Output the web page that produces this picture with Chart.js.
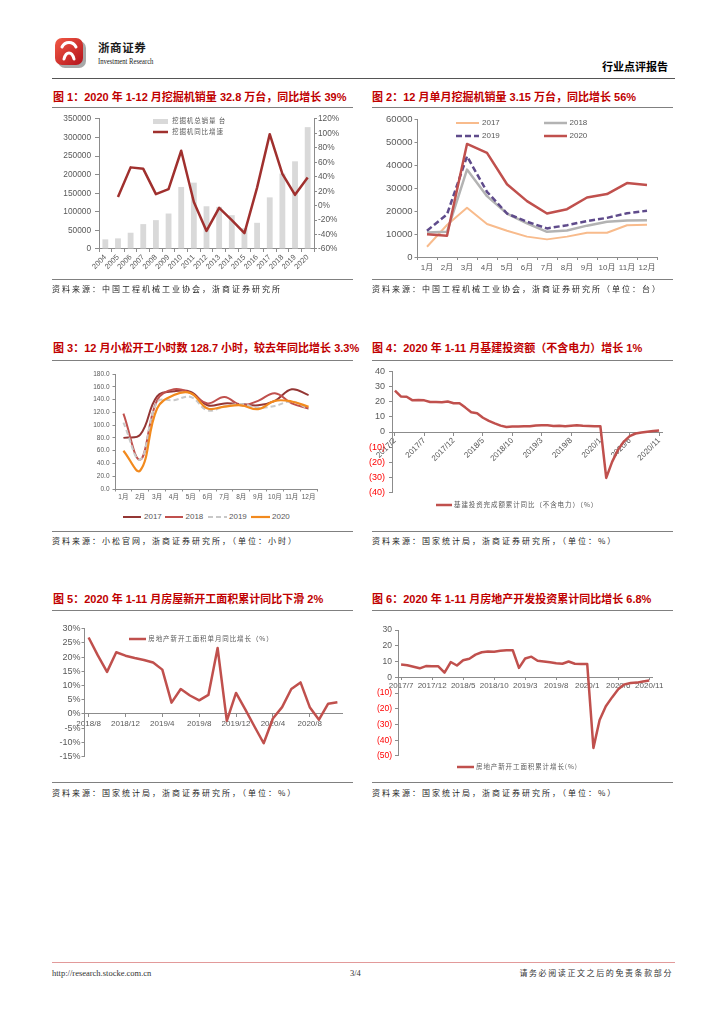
<!DOCTYPE html>
<html>
<head>
<meta charset="utf-8">
<script src="https://cdn.jsdelivr.net/npm/chart.js@4.4.1/dist/chart.umd.min.js"></script>
<style>
html, body { margin: 0; padding: 0; background: #fff; }
#page { position: relative; width: 724px; height: 1024px; overflow: hidden; font-family: "Noto Sans CJK SC", "Noto Sans", sans-serif; }
.t { position: absolute; white-space: nowrap; line-height: 1.2; transform: translateY(-50%); }
.title { font-family: "Liberation Sans", "Noto Sans CJK SC", sans-serif; font-weight: bold; font-size: 11px; color: #C00000; }
.rule { position: absolute; height: 0; border-top: 1.4px solid #808080; }
.src { font-size: 8px; color: #262626; letter-spacing: 2px; }
.key { font-size: 6.5px; color: #595959; letter-spacing: 0.9px; }
.num { font-family: "Liberation Sans", Arial, sans-serif; font-size: 8px; color: #595959; letter-spacing: 0; }
canvas { position: absolute; }
</style>
</head>
<body>
<div id="page">
  <!-- header -->
  <svg style="position:absolute;left:53px;top:36px" width="36" height="34" viewBox="0 0 36 34">
    <defs>
      <linearGradient id="lg" x1="0" y1="0" x2="1" y2="1">
        <stop offset="0" stop-color="#f25a45"/>
        <stop offset="1" stop-color="#b3121c"/>
      </linearGradient>
    </defs>
    <rect x="5" y="5" width="28" height="27" rx="7" fill="#a8a8a8"/>
    <rect x="2" y="2" width="28" height="27" rx="7" fill="url(#lg)"/>
    <path d="M9 11 C12 5, 20 5, 23 11 M11 23 C13 15, 19 15, 21 23" stroke="#fff" stroke-width="3" fill="none" stroke-linecap="round"/>
  </svg>
  <div class="t" style="left:98px;top:48px;font-size:11.5px;font-weight:bold;color:#1a1a1a;letter-spacing:0.6px">浙商证券</div>
  <div class="t" style="left:98px;top:61px;font-family:'Liberation Serif',serif;font-size:8.5px;color:#1a1a1a;transform:translateY(-50%) scaleX(0.78);transform-origin:left center">Investment Research</div>
  <div class="t" style="right:56px;top:67px;font-size:11px;font-weight:bold;color:#000">行业点评报告</div>
  <div class="rule" style="left:52px;top:78px;width:623px;border-top:1.5px solid #555"></div>

  <!-- row 1 -->
  <div class="t title" style="left:53px;top:97.5px">图 1：2020 年 1-12 月挖掘机销量 32.8 万台，同比增长 39%</div>
  <div class="t title" style="left:372px;top:97.5px">图 2：12 月单月挖掘机销量 3.15 万台，同比增长 56%</div>
  <div class="rule" style="left:52px;top:107px;width:301px"></div>
  <div class="rule" style="left:372px;top:107px;width:301px"></div>
  <canvas id="c1" width="300" height="170" style="left:50px;top:110px"></canvas>
  <canvas id="c2" width="295" height="170" style="left:370px;top:112px"></canvas>
  <div class="rule" style="left:52px;top:279px;width:301px"></div>
  <div class="rule" style="left:372px;top:279px;width:301px"></div>
  <div class="t src" style="left:52px;top:288.5px">资料来源：中国工程机械工业协会，浙商证券研究所</div>
  <div class="t src" style="left:372px;top:288.5px">资料来源：中国工程机械工业协会，浙商证券研究所（单位：台）</div>

  <!-- row 2 -->
  <div class="t title" style="left:53px;top:348.5px">图 3：12 月小松开工小时数 128.7 小时，较去年同比增长 3.3%</div>
  <div class="t title" style="left:372px;top:348.5px">图 4：2020 年 1-11 月基建投资额（不含电力）增长 1%</div>
  <div class="rule" style="left:52px;top:360px;width:301px"></div>
  <div class="rule" style="left:372px;top:360px;width:301px"></div>
  <canvas id="c3" width="250" height="140" style="left:75px;top:367px"></canvas>
  <canvas id="c4" width="315" height="140" style="left:355px;top:362px"></canvas>
  <div class="rule" style="left:52px;top:531px;width:301px"></div>
  <div class="rule" style="left:372px;top:531px;width:301px"></div>
  <div class="t src" style="left:52px;top:540.5px">资料来源：小松官网，浙商证券研究所，（单位：小时）</div>
  <div class="t src" style="left:372px;top:540.5px">资料来源：国家统计局，浙商证券研究所，（单位：%）</div>

  <!-- row 3 -->
  <div class="t title" style="left:53px;top:599.5px">图 5：2020 年 1-11 月房屋新开工面积累计同比下滑 2%</div>
  <div class="t title" style="left:372px;top:599.5px">图 6：2020 年 1-11 月房地产开发投资累计同比增长 6.8%</div>
  <div class="rule" style="left:52px;top:610px;width:301px"></div>
  <div class="rule" style="left:372px;top:610px;width:301px"></div>
  <canvas id="c5" width="310" height="141" style="left:40px;top:622px"></canvas>
  <canvas id="c6" width="305" height="142" style="left:360px;top:622px"></canvas>
  <div class="rule" style="left:52px;top:782px;width:301px"></div>
  <div class="rule" style="left:372px;top:782px;width:301px"></div>
  <div class="t src" style="left:52px;top:793px">资料来源：国家统计局，浙商证券研究所，（单位：%）</div>
  <div class="t src" style="left:372px;top:793px">资料来源：国家统计局，浙商证券研究所，（单位：%）</div>

  <!-- footer -->
  <div class="rule" style="left:52px;top:962px;width:623px;border-top:1.5px solid #E29A9A"></div>
  <div class="t" style="left:52px;top:972.5px;font-family:'Liberation Serif',serif;font-size:8.5px;color:#333">http://research.stocke.com.cn</div>
  <div class="t" style="left:350px;top:972.5px;font-family:'Liberation Serif',serif;font-size:8.5px;color:#333">3/4</div>
  <div class="t" style="right:51px;top:972.5px;font-size:8px;color:#333;letter-spacing:1.6px">请务必阅读正文之后的免责条款部分</div>
</div>

<script>
// ---- chart 1: annual excavator sales and yoy growth ----
const C1_YEARS = ['2004', '2005', '2006', '2007', '2008', '2009', '2010', '2011', '2012',
  '2013', '2014', '2015', '2016', '2017', '2018', '2019', '2020'];
const C1_SALES = [26000, 28600, 43800, 67000, 77700, 95500, 167000, 178600, 115000,
  113400, 91000, 56000, 70500, 139000, 203000, 236000, 328000];
const C1_GROWTH = [null, 12, 53, 51, 16, 23, 76, 5, -35, -3, -20, -38, 25, 99, 44, 15, 39];
const C1_NAMES = ['挖掘机总销量 台', '挖掘机同比增速'];

// ---- chart 2: monthly excavator sales by year ----
const C2_MONTHS = ['1月', '2月', '3月', '4月', '5月', '6月', '7月', '8月', '9月', '10月', '11月', '12月'];
const C2_2017 = [4500, 14000, 21500, 14400, 11500, 8900, 7700, 8900, 10600, 10600, 13900, 14100];
const C2_2018 = [10700, 11000, 38200, 26600, 19000, 14700, 11000, 11600, 13700, 15400, 16000, 16100];
const C2_2019 = [11500, 18600, 44000, 28500, 19000, 15400, 12500, 13900, 15700, 17100, 19100, 20200];
const C2_2020 = [9900, 9300, 49400, 45500, 31800, 24400, 19000, 20900, 26000, 27500, 32300, 31500];

// ---- chart 3: Komatsu working hours ----
const C3_MONTHS = ['1月', '2月', '3月', '4月', '5月', '6月', '7月', '8月', '9月', '10月', '11月', '12月'];
const C3_2017 = [80, 85, 145, 153, 152, 131, 134, 133, 131, 138, 156, 147];
const C3_2018 = [118, 46, 139, 156, 150, 134, 144, 131, 138, 150, 134, 126];
const C3_2019 = [104, 46, 136, 139, 144, 123, 129, 133, 127, 130, 137, 125];
const C3_2020 = [60, 29, 126, 147, 150, 126, 129, 131, 125, 138, 137, 128.7];

// ---- chart 4: infrastructure investment ytd yoy (ex power) ----
const C4_MONTHS = ['2017/2', '2017/3', '2017/4', '2017/5', '2017/6', '2017/7', '2017/8', '2017/9', '2017/10', '2017/11', '2017/12',
  '2018/1', '2018/2', '2018/3', '2018/4', '2018/5', '2018/6', '2018/7', '2018/8', '2018/9', '2018/10', '2018/11', '2018/12',
  '2019/1', '2019/2', '2019/3', '2019/4', '2019/5', '2019/6', '2019/7', '2019/8', '2019/9', '2019/10', '2019/11', '2019/12',
  '2020/1', '2020/2', '2020/3', '2020/4', '2020/5', '2020/6', '2020/7', '2020/8', '2020/9', '2020/10', '2020/11'];
const C4_VALUES = [27.3, 23.5, 23.3, 20.9, 21.1, 20.9, 19.8, 19.8, 19.6, 20.1, 19.0,
  19.0, 16.1, 13.0, 12.4, 9.4, 7.3, 5.7, 4.2, 3.3, 3.7, 3.7, 3.8,
  3.8, 4.3, 4.4, 4.4, 4.0, 4.1, 3.8, 4.2, 4.5, 4.2, 4.0, 3.8,
  3.8, -30.3, -19.7, -11.8, -6.3, -2.7, -1.0, -0.3, 0.2, 0.7, 1.0];
const C4_NAME = '基建投资完成额累计同比（不含电力）（%）';

// ---- chart 5: housing new starts, monthly yoy ----
const C5_MONTHS = ['2018/8', '2018/9', '2018/10', '2018/11', '2018/12',
  '2019/1', '2019/2', '2019/3', '2019/4', '2019/5', '2019/6', '2019/7', '2019/8', '2019/9', '2019/10', '2019/11', '2019/12',
  '2020/1', '2020/2', '2020/3', '2020/4', '2020/5', '2020/6', '2020/7', '2020/8', '2020/9', '2020/10', '2020/11'];
const C5_VALUES = [26.9, 20.6, 14.8, 21.7, 20.5,
  19.7, 19.0, 18.1, 15.6, 4.0, 8.8, 6.5, 4.8, 6.7, 23.2, -2.4, 7.4,
  1.6, -4.4, -10.3, -1.6, 2.4, 8.8, 11.1, 2.4, -2.0, 3.6, 4.1];
const C5_NAME = '房地产新开工面积单月同比增长（%）';

// ---- chart 6: new starts ytd yoy ----
const C6_MONTHS = ['2017/7', '2017/8', '2017/9', '2017/10', '2017/11', '2017/12',
  '2018/1', '2018/2', '2018/3', '2018/4', '2018/5', '2018/6', '2018/7', '2018/8', '2018/9', '2018/10', '2018/11', '2018/12',
  '2019/1', '2019/2', '2019/3', '2019/4', '2019/5', '2019/6', '2019/7', '2019/8', '2019/9', '2019/10', '2019/11', '2019/12',
  '2020/1', '2020/2', '2020/3', '2020/4', '2020/5', '2020/6', '2020/7', '2020/8', '2020/9', '2020/10', '2020/11'];
const C6_VALUES = [8.1, 7.7, 6.7, 5.7, 7.1, 7.0,
  7.0, 2.9, 9.7, 7.5, 10.8, 11.8, 14.4, 15.9, 16.4, 16.3, 16.8, 17.2,
  17.2, 6.0, 11.9, 13.1, 10.5, 10.1, 9.5, 8.9, 8.6, 10.0, 8.6, 8.5,
  8.5, -44.9, -27.2, -18.4, -12.8, -7.6, -4.5, -3.6, -3.4, -2.7, -2.0];
const C6_NAME = '房地产新开工面积累计增长(%)';

const AXIS = '#8c8c8c';
const RED = '#C0504D';

Chart.defaults.font.family = "'Liberation Sans', Arial, 'Noto Sans CJK SC', sans-serif";
Chart.defaults.color = '#595959';
Chart.defaults.animation = false;
Chart.defaults.plugins.legend.display = false;
Chart.defaults.plugins.tooltip.enabled = false;
Chart.defaults.elements.point.radius = 0;
Chart.defaults.elements.line.borderJoinStyle = 'round';

function edge(tick, extra) {
    return Object.assign({
        grid: { drawOnChartArea: false, drawTicks: true, tickLength: tick, color: AXIS },
        border: { color: AXIS, width: 1 }
    }, extra);
}

function fixWidth(w) { return s => { s.width = w; }; }
function fixHeight(h) { return s => { s.height = h; }; }

function negLabel(v) { return v < 0 ? '(' + (-v) + ')' : String(v); }
function negColor(c) { return c.tick && c.tick.value < 0 ? '#FF0000' : '#595959'; }

// chart 1
new Chart(document.getElementById('c1'), {
    type: 'bar',
    data: {
        labels: C1_YEARS,
        datasets: [
            { type: 'line', label: C1_NAMES[1], data: C1_GROWTH, yAxisID: 'y1',
              borderColor: '#A0302E', borderWidth: 2.5, order: 0 },
            { type: 'bar', label: C1_NAMES[0], data: C1_SALES, yAxisID: 'y',
              backgroundColor: '#D9D9D9', barPercentage: 0.46, categoryPercentage: 1, order: 1 }
        ]
    },
    options: {
        responsive: false,
        devicePixelRatio: 1,
        layout: { padding: { top: 8, right: 0, bottom: 0, left: 0 } },
        scales: {
            x: edge(3, {
                offset: true,
                grid: { offset: true, drawOnChartArea: false, tickLength: 3, color: AXIS },
                ticks: { autoSkip: false, minRotation: 45, maxRotation: 45, padding: 1, font: { size: 7.5 } },
                afterFit: fixHeight(31)
            }),
            y: edge(4, {
                position: 'left', min: 0, max: 350000,
                ticks: { stepSize: 50000, padding: 4, font: { size: 8.3 }, callback: v => String(v) },
                afterFit: fixWidth(49)
            }),
            y1: edge(3, {
                position: 'right', min: -60, max: 120,
                ticks: { stepSize: 20, padding: 1, font: { size: 8.3 }, callback: v => v + '%' },
                afterFit: fixWidth(36)
            })
        }
    }
});

// chart 2
new Chart(document.getElementById('c2'), {
    type: 'line',
    data: {
        labels: C2_MONTHS,
        datasets: [
            { label: '2017', data: C2_2017, borderColor: '#F8BB8C', borderWidth: 2, order: 3 },
            { label: '2018', data: C2_2018, borderColor: '#B3B3B3', borderWidth: 2.5, order: 2 },
            { label: '2019', data: C2_2019, borderColor: '#5F4B8B', borderWidth: 2.5, borderDash: [6, 3], order: 1 },
            { label: '2020', data: C2_2020, borderColor: RED, borderWidth: 2.5, order: 0 }
        ]
    },
    options: {
        responsive: false,
        devicePixelRatio: 1,
        layout: { padding: { top: 7, right: 8, bottom: 0, left: 0 } },
        scales: {
            x: edge(3, {
                offset: true,
                grid: { offset: true, drawOnChartArea: false, tickLength: 3, color: AXIS },
                ticks: { autoSkip: false, maxRotation: 0, padding: 3, font: { size: 8 } },
                afterFit: fixHeight(25)
            }),
            y: edge(2.5, {
                min: 0, max: 60000,
                ticks: { stepSize: 10000, padding: 2, font: { size: 9.5 }, callback: v => String(v) },
                afterFit: fixWidth(47)
            })
        }
    }
});

// chart 3
new Chart(document.getElementById('c3'), {
    type: 'line',
    data: {
        labels: C3_MONTHS,
        datasets: [
            { label: '2017', data: C3_2017, borderColor: '#943634', borderWidth: 2, tension: 0.4, order: 3 },
            { label: '2018', data: C3_2018, borderColor: RED, borderWidth: 2, tension: 0.4, order: 2 },
            { label: '2019', data: C3_2019, borderColor: '#C8C8C8', borderWidth: 2, borderDash: [5, 3], tension: 0.4, order: 1 },
            { label: '2020', data: C3_2020, borderColor: '#F28A1E', borderWidth: 2.2, tension: 0.4, order: 0 }
        ]
    },
    options: {
        responsive: false,
        devicePixelRatio: 1,
        layout: { padding: { top: 7, right: 8, bottom: 0, left: 0 } },
        scales: {
            x: edge(2.5, {
                offset: true,
                grid: { offset: true, drawOnChartArea: false, tickLength: 2.5, color: AXIS },
                ticks: { autoSkip: false, maxRotation: 0, padding: 2, font: { size: 6.5 } },
                afterFit: fixHeight(18)
            }),
            y: edge(2.5, {
                min: 0, max: 180,
                ticks: { stepSize: 20, padding: 3, font: { size: 6.5 }, callback: v => v.toFixed(1) },
                afterFit: fixWidth(40)
            })
        }
    }
});

// charts 4-6 share a zero-crossing x axis
function zeroLineChart(id, labels, values, name, every, opts) {
    return new Chart(document.getElementById(id), {
        type: 'line',
        data: {
            labels: labels,
            datasets: [{ label: name, data: values, borderColor: RED, borderWidth: 2.5 }]
        },
        options: {
            responsive: false,
            devicePixelRatio: 1,
            layout: { padding: opts.padding },
            scales: {
                x: {
                    position: { y: 0 },
                    offset: true,
                    grid: {
                        drawOnChartArea: false, tickLength: opts.xTick, color: AXIS,
                        tickColor: c => (c.index % every === 0 ? AXIS : 'rgba(0,0,0,0)')
                    },
                    border: { color: AXIS, width: 1 },
                    ticks: {
                        autoSkip: false,
                        minRotation: opts.rotation, maxRotation: opts.rotation,
                        padding: opts.xPad, font: { size: 8 },
                        callback: function (v, i) { return i % every === 0 ? this.getLabelForValue(v) : ''; }
                    },
                    afterFit: fixHeight(0)
                },
                y: edge(opts.yTick, {
                    min: opts.min, max: opts.max,
                    ticks: Object.assign({ stepSize: opts.step, padding: opts.yPad, font: { size: opts.yFont } }, opts.yTicks),
                    afterFit: fixWidth(opts.yWidth)
                })
            }
        }
    });
}

zeroLineChart('c4', C4_MONTHS, C4_VALUES, C4_NAME, 5, {
    padding: { top: 6.7, right: 8, bottom: 4, left: 0 },
    rotation: 45, xTick: 3, xPad: 1,
    min: -40, max: 40, step: 10, yTick: 3, yPad: 4, yFont: 9, yWidth: 37,
    yTicks: { callback: negLabel, color: negColor }
});

zeroLineChart('c5', C5_MONTHS, C5_VALUES, C5_NAME, 4, {
    padding: { top: 6.7, right: 8, bottom: 4, left: 0 },
    rotation: 0, xTick: 3, xPad: 2,
    min: -15, max: 30, step: 5, yTick: 2.5, yPad: 1, yFont: 9, yWidth: 44,
    yTicks: { callback: v => v + '%' }
});

zeroLineChart('c6', C6_MONTHS, C6_VALUES, C6_NAME, 5, {
    padding: { top: 6.3, right: 8, bottom: 4.3, left: 0 },
    rotation: 0, xTick: 2, xPad: 1.5,
    min: -50, max: 30, step: 10, yTick: 3, yPad: 3, yFont: 8.5, yWidth: 38,
    yTicks: { callback: negLabel, color: negColor }
});

// legends drawn as html keys next to each plot
const page = document.getElementById('page');
function lineKey(x, y, w, color, lw, dash, text, textX, cls) {
    page.insertAdjacentHTML('beforeend',
        `<svg style="position:absolute;left:${x}px;top:${y - 4}px" width="${w}" height="8">` +
        `<line x1="0" y1="4" x2="${w}" y2="4" stroke="${color}" stroke-width="${lw}"` +
        (dash ? ` stroke-dasharray="${dash}"` : '') + `/></svg>` +
        `<div class="t ${cls || 'key'}" style="left:${textX}px;top:${y}px">${text}</div>`);
}

page.insertAdjacentHTML('beforeend',
    '<div style="position:absolute;left:153px;top:118.5px;width:15px;height:5px;background:#D9D9D9"></div>' +
    `<div class="t key" style="left:172px;top:121px">${C1_NAMES[0]}</div>`);
lineKey(153, 132.3, 15, '#A0302E', 2.5, null, C1_NAMES[1], 172);

lineKey(456, 122.7, 23, '#F8BB8C', 2, null, '2017', 482, 'num');
lineKey(544, 122.7, 23, '#B3B3B3', 2.5, null, '2018', 569.5, 'num');
lineKey(456, 136, 23, '#5F4B8B', 2.5, '6 3', '2019', 482, 'num');
lineKey(544, 136, 23, RED, 2.5, null, '2020', 569.5, 'num');

lineKey(123, 516.7, 18, '#943634', 2, null, '2017', 144, 'num');
lineKey(165, 516.7, 18, RED, 2, null, '2018', 185.5, 'num');
lineKey(208, 516.7, 19, '#C8C8C8', 2, '5 3', '2019', 229, 'num');
lineKey(251, 516.7, 19, '#F28A1E', 2.2, null, '2020', 272, 'num');

lineKey(436, 505, 16, RED, 2.5, null, C4_NAME, 454);
lineKey(129, 639.3, 17, RED, 2.5, null, C5_NAME, 148.3);
lineKey(457, 767.3, 17, RED, 2.5, null, C6_NAME, 476);
</script>
</body>
</html>
